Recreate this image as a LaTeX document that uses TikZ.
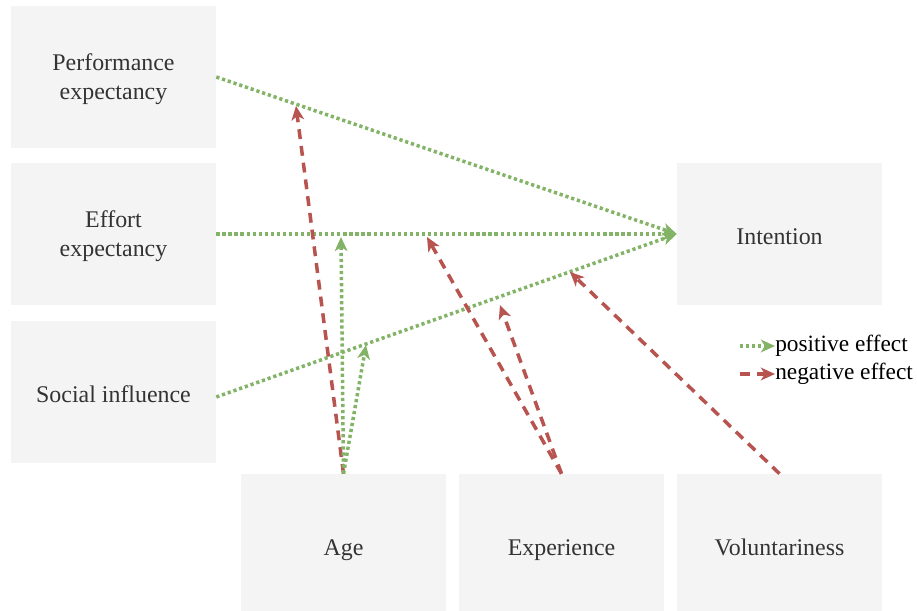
\documentclass[tikz,border=0pt]{standalone}
\usepackage{fontspec}
\setmainfont{Liberation Serif}
\usetikzlibrary{arrows.meta}

\definecolor{boxgray}{HTML}{F4F4F4}
\definecolor{textgray}{HTML}{333333}
\definecolor{posgreen}{HTML}{82B366}
\definecolor{negred}{HTML}{B85450}

\tikzset{
  factor/.style={fill=boxgray, text=textgray, minimum width=5.125cm, minimum height=3.55cm,
    inner sep=0pt, align=center, font=\fontsize{17}{20.6}\selectfont, text depth=-3.5pt},
  oneline/.style={factor, text height=15.5pt, text depth=0pt},
  positive/.style={posgreen, line width=2.5pt, dash pattern=on 2.3pt off 2pt,
    -{Stealth[length=10pt,width=9pt,inset=2.8pt]}},
  negative/.style={negred, line width=2.5pt, dash pattern=on 7pt off 5pt,
    -{Stealth[length=10pt,width=9pt,inset=2.8pt]}},
  legendtext/.style={anchor=west, inner sep=0pt, font=\fontsize{16.6}{20}\selectfont}
}

\begin{document}
\begin{tikzpicture}[x=0.025cm,y=-0.025cm]
\useasboundingbox (0,0) rectangle (917,611);

% boxes
\node[factor] (perf) at (113.5,77) {Performance\\expectancy};
\node[factor] (effort) at (113.5,234) {Effort\\expectancy};
\node[oneline] (social) at (113.5,392) {Social influence};
\node[oneline] (intention) at (779.5,234) {Intention};
\node[oneline] (age) at (343.5,545) {Age};
\node[oneline] (exper) at (561.5,545) {Experience};
\node[oneline] (volun) at (779.5,545) {Voluntariness};

% points where the moderators hit the paths
\coordinate (agePerf) at (296,106);
\coordinate (ageEffort) at (341,237);
\coordinate (ageSocial) at (366,345);
\coordinate (expEffort) at (427,237);
\coordinate (expSocial) at (500,305);
\coordinate (volSocial) at (570,272);

% main effects
\draw[positive] (perf.east) -- (intention.west);
\draw[positive] (effort.east) -- (intention.west);
\draw[positive] ([yshift=-0.125cm]social.east) -- (intention.west);

% moderators
\draw[negative] (age.north) -- (agePerf);
\draw[positive] (age.north) -- (ageEffort);
\draw[positive] (age.north) -- (ageSocial);
\draw[negative] (exper.north) -- (expEffort);
\draw[negative] (exper.north) -- (expSocial);
\draw[negative] (volun.north) -- (volSocial);

% legend
\node[legendtext] (posleg) at (775,346) {positive effect};
\node[legendtext] (negleg) at (775,374) {negative effect};
\draw[positive] (740,346) -- (posleg.west);
\draw[negative] (740,374) -- (negleg.west);
\end{tikzpicture}
\end{document}
